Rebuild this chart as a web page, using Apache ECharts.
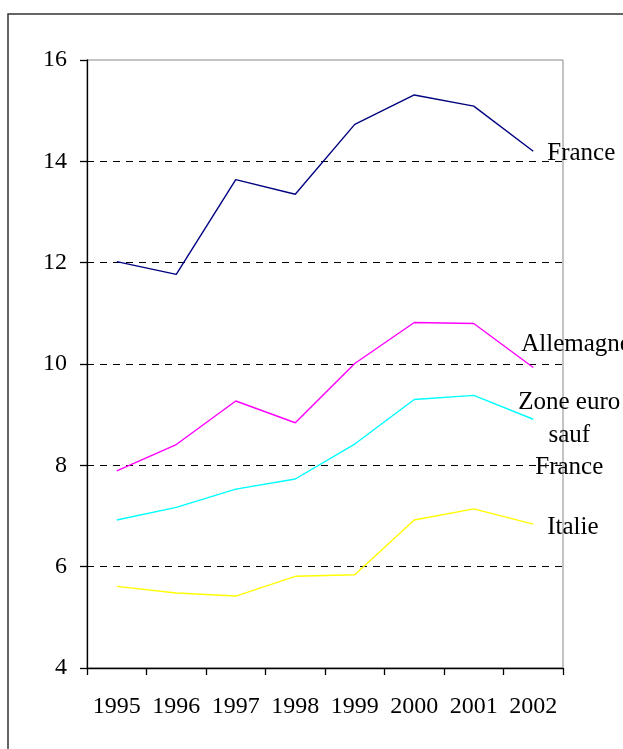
<!DOCTYPE html>
<html>
<head>
<meta charset="utf-8">
<script src="https://cdn.jsdelivr.net/npm/echarts@6/dist/echarts.min.js"></script>
<style>
html,body{margin:0;padding:0;background:#fff;}
#c{width:623px;height:749px;}
</style>
</head>
<body>
<div id="c"></div>
<script>
const years = ['1995','1996','1997','1998','1999','2000','2001','2002'];
const yTicks = { min: 4, max: 16, interval: 2 };
const france = [12.02, 11.77, 13.64, 13.35, 14.73, 15.31, 15.09, 14.20];
const allemagne = [7.89, 8.41, 9.27, 8.84, 10.01, 10.82, 10.80, 9.93];
const zoneEuro = [6.92, 7.17, 7.53, 7.73, 8.42, 9.30, 9.38, 8.91];
const italie = [5.61, 5.48, 5.42, 5.81, 5.84, 6.92, 7.14, 6.84];
const names = ['France', 'Allemagne', 'Zone euro\nsauf\nFrance', 'Italie'];

const FONT = '"Liberation Serif", "Times New Roman", serif';
const chart = echarts.init(document.getElementById('c'), null, { renderer: 'canvas' });

function mkSeries(name, data, color, label) {
  return {
    name: name,
    type: 'line',
    data: data,
    symbol: 'none',
    animation: false,
    lineStyle: { color: color, width: 1.4 },
    endLabel: Object.assign({
      show: true,
      formatter: name,
      color: '#000',
      fontFamily: FONT,
      fontSize: 25,
      distance: 0
    }, label)
  };
}

chart.setOption({
  backgroundColor: '#fff',
  animation: false,
  graphic: [{
    type: 'rect',
    shape: { x: 8, y: 14, width: 800, height: 900 },
    style: { fill: 'none', stroke: '#333', lineWidth: 1.5 },
    silent: true
  }],
  grid: { left: 87, top: 60, right: 60, bottom: 81, show: true, borderColor: '#888', borderWidth: 1, backgroundColor: 'transparent' },
  xAxis: {
    type: 'category',
    data: years,
    boundaryGap: true,
    axisLine: { lineStyle: { color: '#000', width: 1.3 } },
    axisTick: { show: true, length: 7, alignWithLabel: false, lineStyle: { color: '#000', width: 1.3 } },
    axisLabel: { color: '#000', fontFamily: FONT, fontSize: 24, margin: 27, interval: 0 },
    splitLine: { show: false }
  },
  yAxis: {
    type: 'value',
    min: yTicks.min, max: yTicks.max, interval: yTicks.interval,
    axisLine: { show: true, lineStyle: { color: '#000', width: 1.3 } },
    axisTick: { show: true, length: 7, lineStyle: { color: '#000', width: 1.3 } },
    axisLabel: { color: '#000', fontFamily: FONT, fontSize: 24, margin: 20 },
    splitLine: { show: true, lineStyle: { color: ['rgba(0,0,0,0)', '#000', '#000', '#000', '#000', '#000', 'rgba(0,0,0,0)'], type: [7, 6], width: 1 } }
  },
  series: [
    mkSeries(names[0], france, '#000080', { offset: [14, 2], align: 'left' }),
    mkSeries(names[1], allemagne, '#ff00ff', { offset: [-12, -23], align: 'left' }),
    mkSeries(names[2], zoneEuro, '#00ffff', { offset: [36, 16], align: 'center', lineHeight: 32.5 }),
    mkSeries(names[3], italie, '#ffff00', { offset: [14, 3], align: 'left' })
  ]
});
</script>
</body>
</html>
